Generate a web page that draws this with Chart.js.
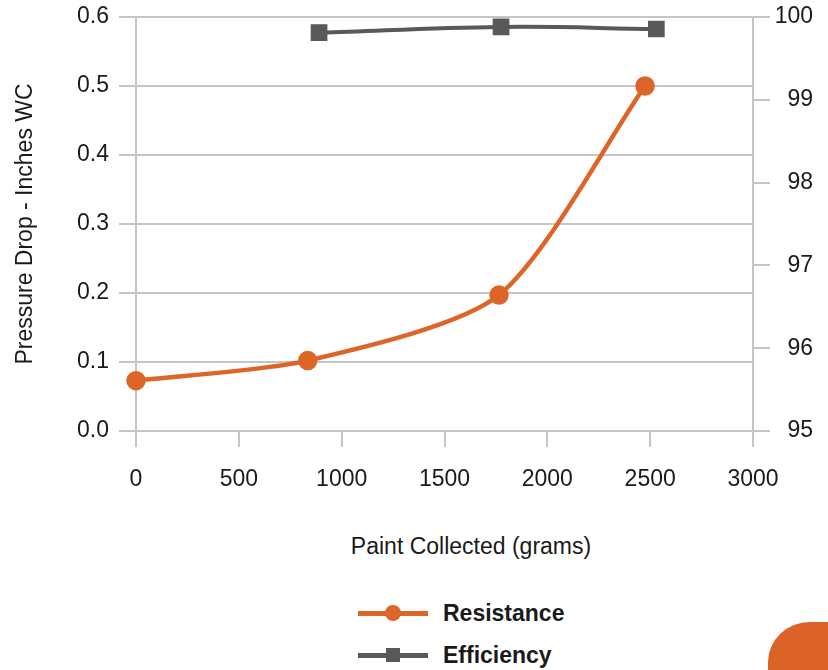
<!DOCTYPE html>
<html>
<head>
<meta charset="utf-8">
<script src="https://cdn.jsdelivr.net/npm/chart.js@4/dist/chart.umd.min.js"></script>
<style>
  body { margin: 0; background: #fff; }
  #wrap { position: relative; width: 828px; height: 670px; overflow: hidden; font-family: "Liberation Sans", Arial, sans-serif; color: #1a1a1a; }
  #chart { position: absolute; left: 0; top: 0; }
  #xTitle { position: absolute; left: 0; width: 942px; top: 533px; text-align: center; font-size: 23px; }
  .leg { position: absolute; left: 358px; height: 30px; display: flex; align-items: center; font-weight: bold; font-size: 23px; }
  .icon { position: relative; width: 70px; height: 30px; margin-right: 15px; }
  .icon .ln { position: absolute; left: 0; right: 0; top: 13px; height: 5px; }
  .icon .mk { position: absolute; }
  #corner { position: absolute; left: 768px; top: 622px; width: 80px; height: 60px; background: #dc6328; border-top-left-radius: 42px 40px; }
</style>
</head>
<body>
<div id="wrap">
  <canvas id="chart" width="828" height="520"></canvas>
  <div id="xTitle">Paint Collected (grams)</div>
  <div class="leg" style="top:598px">
    <div class="icon"><div class="ln" style="background:#dd6527"></div><div class="mk" style="left:27px;top:7px;width:16px;height:16px;border-radius:50%;background:#dd6527"></div></div>
    Resistance
  </div>
  <div class="leg" style="top:640px">
    <div class="icon"><div class="ln" style="background:#58595b"></div><div class="mk" style="left:28px;top:8px;width:14px;height:14px;background:#58595b"></div></div>
    Efficiency
  </div>
  <div id="corner"></div>
</div>
<script>
const resistanceX = [0, 835, 1765, 2475];
const resistanceY = [0.073, 0.102, 0.197, 0.5];
const efficiencyX = [890, 1775, 2530];
const efficiencyY = [99.81, 99.88, 99.855];
const xTicks = [0, 500, 1000, 1500, 2000, 2500, 3000];

const gridColor = "#c5c5c9";
const tickFont = { family: "Liberation Sans", size: 23 };

// vertical scales: keep chart area top fixed by layout padding only
const noVPad = (s) => { s.paddingTop = 0; s.paddingBottom = 0; };

const ctx = document.getElementById("chart");

const chart = new Chart(ctx, {
  type: "line",
  data: {
    datasets: [
      {
        label: "Resistance",
        data: resistanceX.map((x, i) => ({ x: x, y: resistanceY[i] })),
        yAxisID: "y",
        borderColor: "#dd6527",
        backgroundColor: "#dd6527",
        borderWidth: 4.5,
        pointRadius: 7.5,
        pointStyle: "circle",
        tension: 0.25,
        clip: false,
      },
      {
        label: "Efficiency",
        data: efficiencyX.map((x, i) => ({ x: x, y: efficiencyY[i] })),
        yAxisID: "y2",
        borderColor: "#58595b",
        backgroundColor: "#58595b",
        borderWidth: 4,
        pointRadius: 9,
        pointStyle: "rect",
        tension: 0.4,
        clip: false,
      },
    ],
  },
  options: {
    responsive: false,
    animation: false,
    layout: { padding: { top: 17, left: 0, right: 15, bottom: 0 } },
    plugins: {
      legend: { display: false },
      tooltip: { enabled: false },
    },
    scales: {
      x: {
        type: "linear",
        min: 0,
        max: 3000,
        afterBuildTicks: (s) => { s.ticks = xTicks.map((v) => ({ value: v })); },
        afterFit: (s) => { s.height = 89; },
        grid: {
          drawOnChartArea: false,
          color: gridColor,
          lineWidth: 2,
          tickLength: 16,
        },
        border: { color: gridColor, width: 2 },
        ticks: {
          color: "#1a1a1a",
          font: tickFont,
          padding: 19,
          maxRotation: 0,
          callback: (v) => String(v),
        },
      },
      y: {
        position: "left",
        min: 0,
        max: 0.6,
        afterFit: (s) => { s.width = 136; noVPad(s); },
        grid: { color: gridColor, lineWidth: 2, tickLength: 17 },
        border: { color: gridColor, width: 2 },
        ticks: {
          stepSize: 0.1,
          color: "#1a1a1a",
          font: tickFont,
          padding: 10,
          callback: (v) => v.toFixed(1),
        },
        title: {
          display: true,
          text: "Pressure Drop - Inches WC",
          color: "#1a1a1a",
          font: { family: "Liberation Sans", size: 23 },
          padding: { top: 12, bottom: 0 },
        },
      },
      y2: {
        position: "right",
        min: 95,
        max: 100,
        afterFit: (s) => { s.width = 60; noVPad(s); },
        grid: { drawOnChartArea: false, color: gridColor, lineWidth: 2, tickLength: 17 },
        border: { color: gridColor, width: 2 },
        ticks: {
          stepSize: 1,
          color: "#1a1a1a",
          font: tickFont,
          padding: 4,
          crossAlign: "far",
        },
      },
    },
  },
});
</script>
</body>
</html>
